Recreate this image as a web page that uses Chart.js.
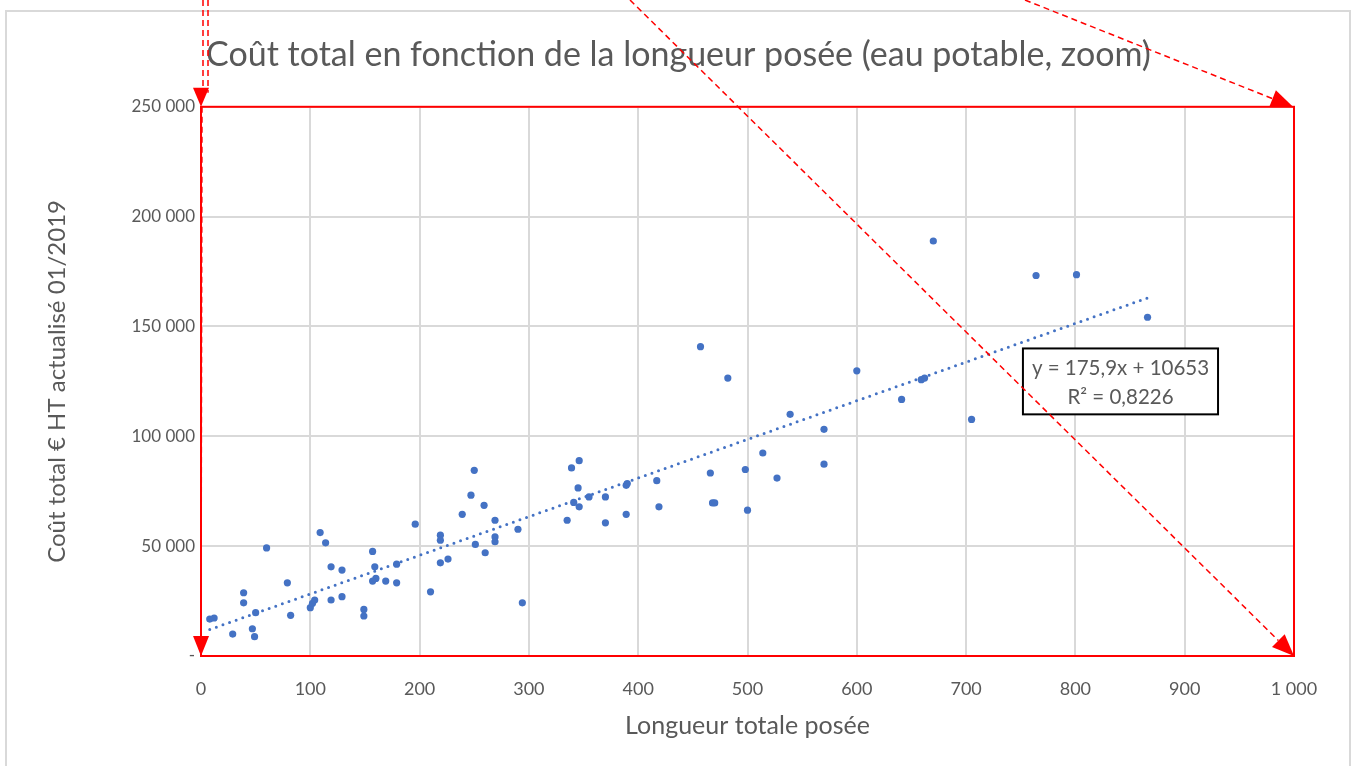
<!DOCTYPE html>
<html>
<head>
<meta charset="utf-8">
<script src="https://cdn.jsdelivr.net/npm/chart.js@4.4.1/dist/chart.umd.min.js"></script>
<style>
  html, body { margin: 0; padding: 0; background: #fff; }
  canvas { display: block; }
</style>
</head>
<body>
<canvas id="c" width="1357" height="766"></canvas>
<script>
// ---- Data ----
const lengths = [8, 12, 29, 47, 49, 50, 39, 39, 60, 79, 82, 100, 102, 104, 109, 114, 119, 119, 129, 129,
  149, 149, 157, 159, 160, 157, 169, 179, 179, 196, 210, 219, 219, 219, 226, 239, 247, 250, 251, 259,
  260, 269, 269, 269, 290, 294, 335, 339, 346, 345, 341, 346, 355, 370, 370, 389, 390, 389, 417, 419,
  457, 466, 468, 470, 482, 498, 500, 514, 527, 539, 570, 570, 600, 641, 659, 662, 670, 705, 764, 801, 866];
const costs = [16800, 17300, 10000, 12400, 8800, 19700, 28800, 24200, 49200, 33300, 18500, 22000, 24000, 25500, 56200, 51500, 40600, 25500, 39100, 27000,
  21200, 18200, 47600, 40600, 35300, 34100, 34100, 41800, 33300, 60000, 29200, 55000, 52700, 42400, 44100, 64500, 73200, 84500, 50800, 68600,
  47000, 61800, 54200, 52000, 57700, 24200, 61800, 85600, 88900, 76500, 69900, 67900, 72400, 72400, 60600, 77700, 78500, 64500, 79800, 67900,
  140800, 83300, 69700, 69700, 126500, 84900, 66400, 92400, 81000, 110000, 87300, 103200, 129800, 116800, 125800, 126500, 188900, 107700, 173200, 173600, 154200];
const trendSlope = 175.9;
const trendIntercept = 10653;
const trendRange = [8, 866];
const equationLines = ['y = 175,9x + 10653', 'R² = 0,8226'];
const yTicks = [0, 50000, 100000, 150000, 200000, 250000];
const xTicks = [0, 100, 200, 300, 400, 500, 600, 700, 800, 900, 1000];

const chartTitle = 'Coût total en fonction de la longueur posée (eau potable, zoom)';
const xTitle = 'Longueur totale posée';
const yTitle = 'Coût total € HT actualisé 01/2019';

// ---- helpers ----
function fmtThousands(v) {
  if (v === 0) return null;
  return String(v).replace(/\B(?=(\d{3})+(?!\d))/g, ' ');
}

const points = lengths.map((x, i) => ({ x: x, y: costs[i] }));
const trendPoints = trendRange.map(x => ({ x: x, y: trendSlope * x + trendIntercept }));

const GREY = '#595959';
const FONT = 'Lato, "Open Sans", sans-serif';

function arrow(ctx, x0, y0, x1, y1, headLen, headW) {
  const dx = x1 - x0, dy = y1 - y0;
  const L = Math.hypot(dx, dy);
  const ux = dx / L, uy = dy / L;
  const bx = x1 - ux * headLen, by = y1 - uy * headLen;
  ctx.save();
  ctx.setLineDash([6, 4]);
  ctx.beginPath();
  ctx.moveTo(x0, y0);
  ctx.lineTo(bx, by);
  ctx.stroke();
  ctx.setLineDash([]);
  ctx.beginPath();
  ctx.moveTo(x1, y1);
  ctx.lineTo(bx - uy * headW, by + ux * headW);
  ctx.lineTo(bx + uy * headW, by - ux * headW);
  ctx.closePath();
  ctx.fill();
  ctx.restore();
}

const decor = {
  id: 'decor',
  beforeDraw(chart) {
    const ctx = chart.ctx;
    ctx.save();
    ctx.fillStyle = '#ffffff';
    ctx.fillRect(0, 0, chart.width, chart.height);
    ctx.strokeStyle = '#d9d9d9';
    ctx.lineWidth = 2;
    ctx.strokeRect(6, 11, chart.width - 13, chart.height + 20);
    ctx.restore();
  },
  afterDatasetsDraw(chart) {
    const ctx = chart.ctx;
    const xs = chart.scales.x, ys = chart.scales.y;
    const left = xs.getPixelForValue(752), top = ys.getPixelForValue(140000);
    const right = xs.getPixelForValue(930.5), bottom = ys.getPixelForValue(110000);
    ctx.save();
    ctx.fillStyle = '#ffffff';
    ctx.fillRect(left, top, right - left, bottom - top);
    ctx.strokeStyle = '#000000';
    ctx.lineWidth = 2;
    ctx.strokeRect(left, top, right - left, bottom - top);
    ctx.fillStyle = GREY;
    ctx.font = '20.5px ' + FONT;
    ctx.textAlign = 'center';
    ctx.textBaseline = 'middle';
    const cx = (left + right) / 2;
    ctx.fillText(equationLines[0], cx, top + 20);
    ctx.fillText(equationLines[1], cx, top + 49);
    ctx.restore();
  },
  afterDraw(chart) {
    const ctx = chart.ctx;
    const a = chart.chartArea;
    ctx.save();
    ctx.strokeStyle = '#ff0000';
    ctx.fillStyle = '#ff0000';
    ctx.lineWidth = 2;
    ctx.strokeRect(a.left, a.top, a.right - a.left, a.bottom - a.top);
    // left arrows
    ctx.lineWidth = 1.5;
    ctx.save();
    ctx.setLineDash([6, 4]);
    ctx.beginPath();
    ctx.moveTo(a.left + 2, 0); ctx.lineTo(a.left + 2, a.top - 14);
    ctx.moveTo(a.left + 7, 0); ctx.lineTo(a.left + 7, a.top - 14);
    ctx.stroke();
    ctx.restore();
    ctx.beginPath();
    ctx.moveTo(a.left, a.top);
    ctx.lineTo(a.left - 8, a.top - 19);
    ctx.lineTo(a.left + 8, a.top - 19);
    ctx.closePath();
    ctx.fill();
    arrow(ctx, a.left + 1, a.top, a.left, a.bottom, 20, 8);
    // right arrows
    ctx.lineWidth = 1.5;
    arrow(ctx, 1025, 0, a.right - 1, a.top, 22, 9);
    arrow(ctx, 630, 0, a.right, a.bottom, 22, 9);
    ctx.restore();
  }
};

new Chart(document.getElementById('c'), {
  data: {
    datasets: [
      {
        type: 'scatter',
        label: 'Coût',
        data: points,
        backgroundColor: '#4472C4',
        borderColor: '#4472C4',
        borderWidth: 0,
        pointRadius: 3.6,
        pointHoverRadius: 3.6,
        order: 2
      },
      {
        type: 'line',
        label: 'Tendance',
        data: trendPoints,
        borderColor: '#4472C4',
        borderWidth: 3,
        borderDash: [0, 7],
        borderCapStyle: 'round',
        pointRadius: 0,
        fill: false,
        order: 1
      }
    ]
  },
  options: {
    responsive: false,
    devicePixelRatio: 1,
    animation: false,
    layout: { padding: { left: 63, right: 63, top: 0, bottom: 0 } },
    plugins: {
      legend: { display: false },
      tooltip: { enabled: false },
      title: {
        display: true,
        text: chartTitle,
        color: GREY,
        font: { family: FONT, size: 34, weight: 'normal', lineHeight: 1.2 },
        padding: { top: 35, bottom: 31 }
      }
    },
    scales: {
      x: {
        type: 'linear',
        min: 0, max: 1000,
        afterFit(s) { s.height = 110; },
        afterBuildTicks(s) { s.ticks = xTicks.map(v => ({ value: v })); },
        grid: { color: '#d9d9d9', lineWidth: 2, drawTicks: false },
        border: { display: false },
        ticks: {
          color: GREY, padding: 22,
          font: { family: FONT, size: 18 },
          callback: v => fmtThousands(v) === null ? '0' : fmtThousands(v)
        },
        title: {
          display: true, text: xTitle, color: GREY,
          font: { family: FONT, size: 25, lineHeight: 1.2 },
          padding: { top: 0, bottom: 25 }
        }
      },
      y: {
        type: 'linear',
        min: 0, max: 250000,
        afterFit(s) { s.width = 138; },
        afterBuildTicks(s) { s.ticks = yTicks.map(v => ({ value: v })); },
        grid: { color: '#d9d9d9', lineWidth: 2, drawTicks: false },
        border: { display: false },
        ticks: {
          color: GREY, padding: 6,
          font: { family: FONT, size: 17 },
          callback: v => fmtThousands(v) === null ? '-' : fmtThousands(v)
        },
        title: {
          display: true, text: yTitle, color: GREY,
          font: { family: FONT, size: 24, lineHeight: 1.2 },
          padding: { top: -20, bottom: 0 }
        }
      }
    }
  },
  plugins: [decor]
});
</script>
</body>
</html>
